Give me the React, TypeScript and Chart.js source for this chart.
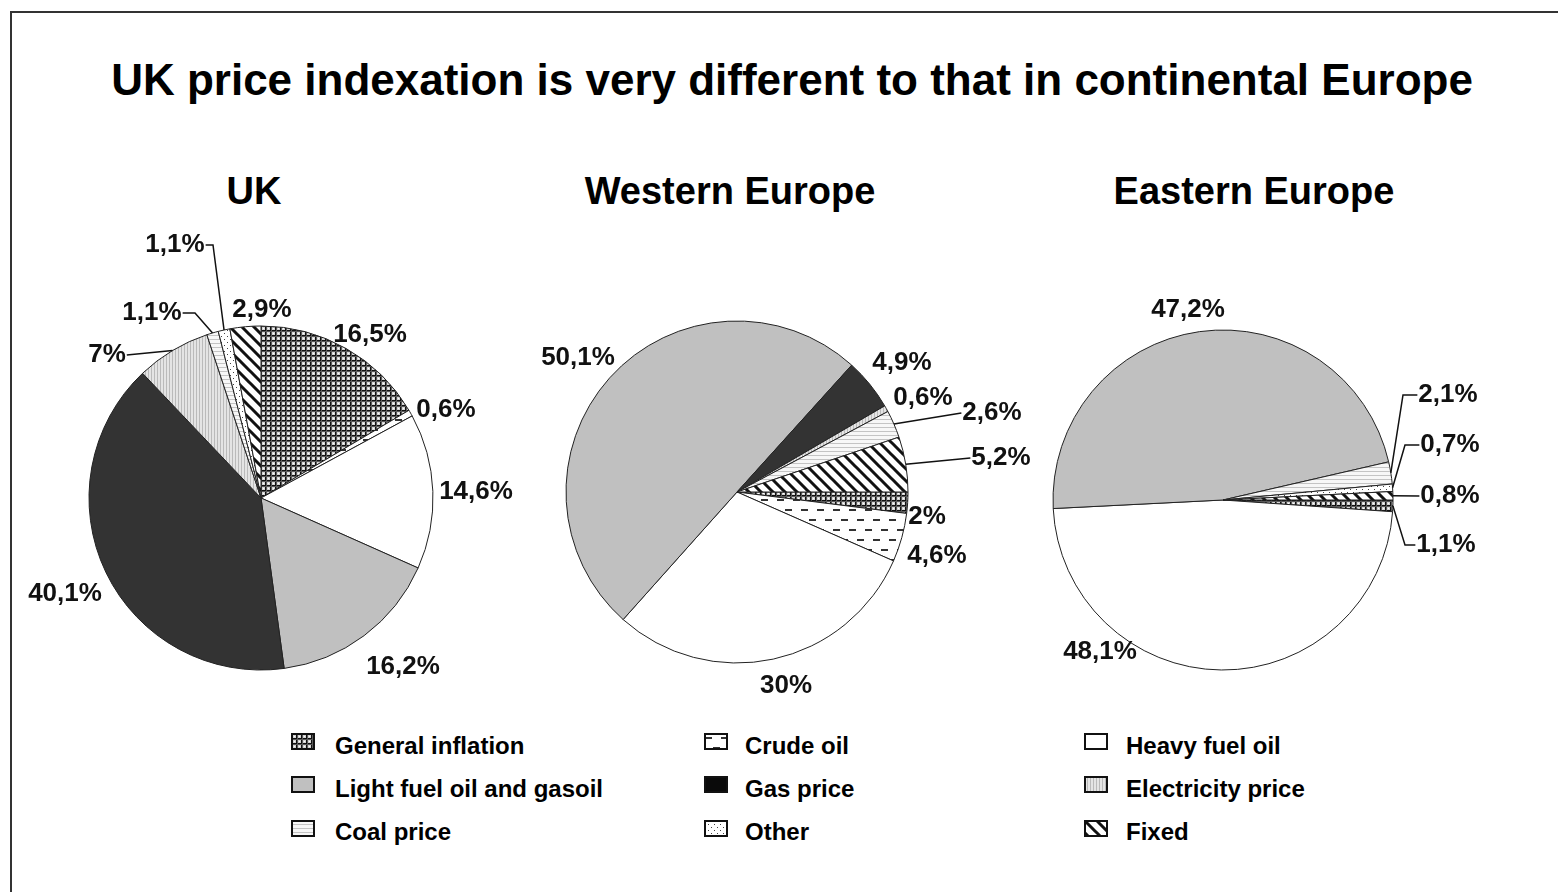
import React, { useEffect, useRef } from 'react';
import { Chart, registerables } from 'chart.js';

Chart.register(...registerables);

// ---------- data ----------
const mainTitle = 'UK price indexation is very different to that in continental Europe';
const pieTitles = ['UK', 'Western Europe', 'Eastern Europe'];
const categories = [
  'General inflation',
  'Crude oil',
  'Heavy fuel oil',
  'Light fuel oil and gasoil',
  'Gas price',
  'Electricity price',
  'Coal price',
  'Other',
  'Fixed',
];
const ukValues = [16.5, 0.6, 14.6, 16.2, 40.1, 7, 1.1, 1.1, 2.9];
const westValues = [2, 4.6, 30, 50.1, 4.9, 0.6, 2.6, 0, 5.2];
const eastValues = [1.1, 0, 48.1, 47.2, 0, 0, 2.1, 0.7, 0.8];
const fillKinds = ['grid', 'dashes', 'white', 'lightgray', 'dark', 'vlines', 'hlines', 'dots', 'diag'];

// ---------- label layout (offsets relative to pie centre) ----------
type LabelCfg = { dx: number; dy: number; leader?: boolean; elbowDx?: number } | null;
const ukLabels: LabelCfg[] = [
  { dx: 109, dy: -163 },
  { dx: 185, dy: -88 },
  { dx: 215, dy: -6 },
  { dx: 142, dy: 169 },
  { dx: -196, dy: 96 },
  { dx: -154, dy: -143, leader: true },
  { dx: -109, dy: -185, leader: true, elbowDx: -66 },
  { dx: -86, dy: -253, leader: true, elbowDx: -48 },
  { dx: 1, dy: -188 },
];
const westLabels: LabelCfg[] = [
  { dx: 190, dy: 25 },
  { dx: 200, dy: 64 },
  { dx: 49, dy: 194 },
  { dx: -159, dy: -134 },
  { dx: 165, dy: -129 },
  { dx: 186, dy: -94 },
  { dx: 255, dy: -79, leader: true },
  null,
  { dx: 264, dy: -34, leader: true },
];
const eastLabels: LabelCfg[] = [
  { dx: 223, dy: 45, leader: true, elbowDx: 182 },
  null,
  { dx: -123, dy: 152 },
  { dx: -35, dy: -190 },
  null,
  null,
  { dx: 225, dy: -105, leader: true, elbowDx: 180 },
  { dx: 227, dy: -55, leader: true, elbowDx: 182 },
  { dx: 227, dy: -4, leader: true },
];

const FONT = '"Liberation Sans", Arial, Helvetica, sans-serif';

function fmtPct(v: number): string {
  return String(v).replace('.', ',') + '%';
}

function makeFill(ctx: CanvasRenderingContext2D, kind: string, legend = false): string | CanvasPattern {
  const solid: Record<string, string> = { white: '#ffffff', lightgray: '#c0c0c0', dark: legend ? '#0a0a0a' : '#333333' };
  if (solid[kind]) return solid[kind];
  const t = document.createElement('canvas');
  const g = t.getContext('2d')!;
  const init = (w: number, h: number, bg: string) => {
    t.width = w;
    t.height = h;
    g.fillStyle = bg;
    g.fillRect(0, 0, w, h);
  };
  switch (kind) {
    case 'grid':
      init(5, 5, '#d4d4d4');
      g.fillStyle = '#111111';
      g.fillRect(0, 0, 5, 1);
      g.fillRect(0, 0, 1, 5);
      g.fillStyle = '#5a5a5a';
      g.fillRect(0, 1, 5, 1);
      g.fillRect(1, 0, 1, 5);
      g.fillStyle = '#ffffff';
      g.fillRect(3, 3, 1, 1);
      break;
    case 'dashes':
      init(16, 20, '#ffffff');
      g.fillStyle = '#333333';
      g.fillRect(1, 4, 7, 2);
      g.fillRect(9, 14, 7, 2);
      break;
    case 'vlines':
      init(3, 1, '#e4e4e4');
      g.fillStyle = '#bababa';
      g.fillRect(0, 0, 1, 1);
      break;
    case 'hlines':
      init(1, 4, '#f7f7f7');
      g.fillStyle = '#c4c4c4';
      g.fillRect(0, 0, 1, 1);
      break;
    case 'dots':
      init(6, 6, '#ffffff');
      g.fillStyle = '#444444';
      g.fillRect(1, 1, 1, 1);
      g.fillRect(4, 4, 1, 1);
      break;
    case 'diag':
      init(12, 12, '#ffffff');
      g.strokeStyle = '#111111';
      g.lineWidth = 3;
      g.beginPath();
      for (const o of [-12, 0, 12]) {
        g.moveTo(o - 2, -2);
        g.lineTo(o + 14, 14);
      }
      g.stroke();
      break;
  }
  return ctx.createPattern(t, 'repeat')!;
}

const sliceLabelPlugin = {
  id: 'sliceLabels',
  afterDatasetsDraw(chart: any, _args: any, opts: any) {
    const ctx: CanvasRenderingContext2D = chart.ctx;
    const meta = chart.getDatasetMeta(0);
    const values = chart.data.datasets[0].data as number[];
    const cfgs: LabelCfg[] = opts.labels || [];
    ctx.save();
    ctx.font = `bold 26px ${FONT}`;
    ctx.fillStyle = '#111';
    ctx.strokeStyle = '#111';
    ctx.lineWidth = 1.5;
    ctx.textAlign = 'center';
    ctx.textBaseline = 'middle';
    meta.data.forEach((arc: any, i: number) => {
      const cfg = cfgs[i];
      const v = values[i];
      if (!cfg || !v) return;
      const p = arc.getProps(['x', 'y', 'startAngle', 'endAngle', 'outerRadius'], true);
      const mid = (p.startAngle + p.endAngle) / 2;
      const ax = p.x + Math.cos(mid) * p.outerRadius;
      const ay = p.y + Math.sin(mid) * p.outerRadius;
      const lx = p.x + cfg.dx;
      const ly = p.y + cfg.dy;
      const text = fmtPct(v);
      const w = ctx.measureText(text).width;
      if (cfg.leader) {
        const refX = cfg.elbowDx !== undefined ? p.x + cfg.elbowDx : ax;
        const edgeX = lx > refX ? lx - w / 2 - 1 : lx + w / 2 + 1;
        ctx.beginPath();
        ctx.moveTo(ax, ay);
        if (cfg.elbowDx !== undefined) ctx.lineTo(p.x + cfg.elbowDx, ly);
        ctx.lineTo(edgeX, ly);
        ctx.stroke();
      }
      ctx.fillText(text, lx, ly);
    });
    ctx.restore();
  },
};

type Box = { left: number; top: number; width: number; height: number };

function PieChart(props: {
  values: number[];
  labelCfg: LabelCfg[];
  rotation: number;
  box: Box;
  center: [number, number];
  radius: number;
}) {
  const ref = useRef<HTMLCanvasElement>(null);
  const { values, labelCfg, rotation, box, center, radius } = props;
  useEffect(() => {
    const canvas = ref.current!;
    const ctx = canvas.getContext('2d')!;
    const bw = 1;
    const cx = center[0] - box.left;
    const cy = center[1] - box.top;
    const half = radius + bw / 2;
    const padding = {
      left: cx - half,
      right: box.width - cx - half,
      top: cy - half,
      bottom: box.height - cy - half,
    };
    const chart = new Chart(canvas, {
      type: 'pie',
      data: {
        labels: categories,
        datasets: [
          {
            data: values,
            backgroundColor: fillKinds.map((k) => makeFill(ctx, k)),
            borderColor: '#222222',
            borderWidth: bw,
          },
        ],
      },
      options: {
        animation: false,
        responsive: false,
        maintainAspectRatio: false,
        rotation,
        layout: { padding },
        events: [],
        plugins: {
          legend: { display: false },
          title: { display: false },
          tooltip: { enabled: false },
          sliceLabels: { labels: labelCfg },
        } as any,
      },
      plugins: [sliceLabelPlugin as any],
    });
    return () => chart.destroy();
  }, []);
  return (
    <canvas
      ref={ref}
      width={box.width}
      height={box.height}
      style={{ position: 'absolute', left: box.left, top: box.top, width: box.width, height: box.height }}
    />
  );
}

function Swatch(props: { kind: string; left: number; top: number }) {
  const ref = useRef<HTMLCanvasElement>(null);
  useEffect(() => {
    const c = ref.current!;
    const g = c.getContext('2d')!;
    g.clearRect(0, 0, c.width, c.height);
    g.fillStyle = makeFill(g, props.kind, true) as any;
    g.fillRect(1, 1, c.width - 2, c.height - 2);
    g.strokeStyle = '#111';
    g.lineWidth = 2;
    g.strokeRect(1, 1, c.width - 2, c.height - 2);
  }, []);
  return (
    <canvas
      ref={ref}
      width={24}
      height={17}
      style={{ position: 'absolute', left: props.left, top: props.top, width: 24, height: 17 }}
    />
  );
}

function Text(props: {
  text: string;
  size: number;
  baseline: number;
  left?: number;
  centerX?: number;
  bold?: boolean;
}) {
  const { text, size, baseline, left, centerX, bold } = props;
  const top = baseline - 0.8465 * size;
  const style: React.CSSProperties = {
    position: 'absolute',
    top,
    fontSize: size,
    lineHeight: `${size}px`,
    fontWeight: bold ? 'bold' : 'normal',
    whiteSpace: 'nowrap',
    color: '#000',
  };
  if (centerX !== undefined) {
    style.left = centerX - 1000;
    style.width = 2000;
    style.textAlign = 'center';
  } else {
    style.left = left;
  }
  return <div style={style}>{text}</div>;
}

const legendColSwatchX = [291, 704, 1084];
const legendColTextX = [335, 745, 1126];
const legendRowSwatchY = [733, 776, 820];
const legendRowBaseline = [754, 797, 840];

export default function App() {
  return (
    <div
      style={{
        position: 'absolute',
        left: 0,
        top: 0,
        width: 1558,
        height: 892,
        background: '#ffffff',
        overflow: 'hidden',
        fontFamily: FONT,
      }}
    >
      <div
        style={{
          position: 'absolute',
          left: 10,
          top: 11,
          width: 1600,
          height: 1000,
          borderTop: '2px solid #333',
          borderLeft: '2px solid #333',
        }}
      />
      <Text text={mainTitle} size={44} baseline={95} centerX={792} bold />
      <Text text={pieTitles[0]} size={38} baseline={204} centerX={254} bold />
      <Text text={pieTitles[1]} size={38} baseline={204} centerX={730} bold />
      <Text text={pieTitles[2]} size={38} baseline={204} centerX={1254} bold />

      <PieChart
        values={ukValues}
        labelCfg={ukLabels}
        rotation={0}
        box={{ left: 10, top: 215, width: 510, height: 500 }}
        center={[261, 498]}
        radius={172}
      />
      <PieChart
        values={westValues}
        labelCfg={westLabels}
        rotation={90}
        box={{ left: 520, top: 215, width: 520, height: 500 }}
        center={[737, 492]}
        radius={171}
      />
      <PieChart
        values={eastValues}
        labelCfg={eastLabels}
        rotation={90}
        box={{ left: 1040, top: 215, width: 510, height: 500 }}
        center={[1223, 500]}
        radius={170}
      />

      {categories.map((c, i) => {
        const col = i % 3;
        const row = Math.floor(i / 3);
        return (
          <React.Fragment key={c}>
            <Swatch kind={fillKinds[i]} left={legendColSwatchX[col]} top={legendRowSwatchY[row]} />
            <Text text={c} size={24} baseline={legendRowBaseline[row]} left={legendColTextX[col]} bold />
          </React.Fragment>
        );
      })}
    </div>
  );
}
